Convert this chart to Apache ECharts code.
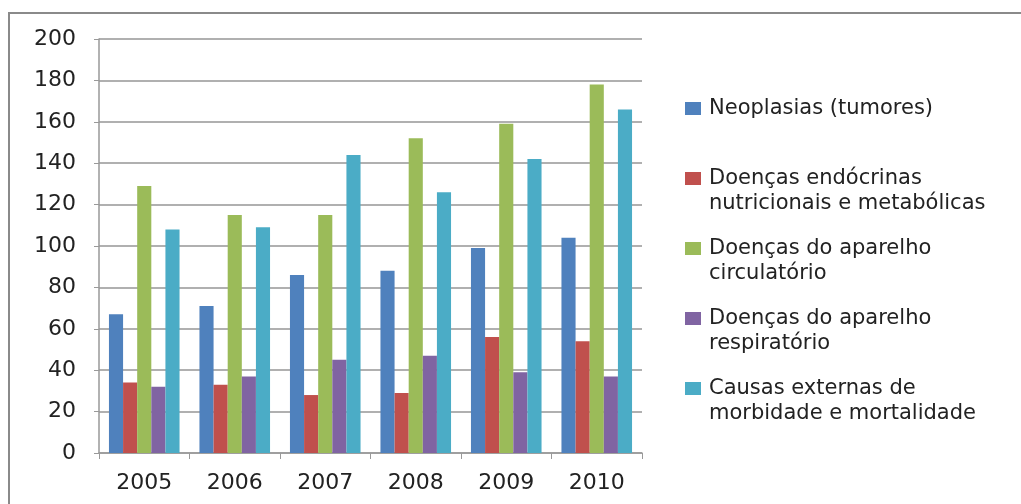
<!DOCTYPE html>
<html>
<head>
<meta charset="utf-8">
<script src="https://cdn.jsdelivr.net/npm/echarts@6/dist/echarts.min.js"></script>
<style>
  html, body { margin: 0; padding: 0; background: #fff; }
  #chart { width: 1021px; height: 504px; }
</style>
</head>
<body>
<div id="chart"></div>
<script>
// dados
const years = ['2005', '2006', '2007', '2008', '2009', '2010'];
const neoplasias = [67, 71, 86, 88, 99, 104];
const endocrinas = [34, 33, 28, 29, 56, 54];
const circulatorio = [129, 115, 115, 152, 159, 178];
const respiratorio = [32, 37, 45, 47, 39, 37];
const causasExternas = [108, 109, 144, 126, 142, 166];

const seriesNames = [
  'Neoplasias (tumores)',
  'Doenças endócrinas nutricionais e metabólicas',
  'Doenças do aparelho circulatório',
  'Doenças do aparelho respiratório',
  'Causas externas de morbidade e mortalidade'
];
// rótulos da legenda (linha em branco no início para alinhar o ícone à 1ª linha)
const legendLabels = [
  'Neoplasias (tumores)',
  ' \nDoenças endócrinas\nnutricionais e metabólicas',
  ' \nDoenças do aparelho\ncirculatório',
  ' \nDoenças do aparelho\nrespiratório',
  ' \nCausas externas de\nmorbidade e mortalidade'
];
const colors = ['#4F81BD', '#C0504D', '#9BBB59', '#8064A2', '#4BACC6'];
const values = [neoplasias, endocrinas, circulatorio, respiratorio, causasExternas];

const chart = echarts.init(document.getElementById('chart'));
const font = '"DejaVu Sans", sans-serif';

// centro vertical do ícone de cada item da legenda
const iconCenters = [108, 178, 248, 318, 388];
const lineH = 25;

const legends = seriesNames.map((name, i) => {
  const lines = legendLabels[i].split('\n').length;
  return {
    left: 685,
    top: Math.round(iconCenters[i] - lines * lineH / 2),
    padding: 0,
    orient: 'vertical',
    itemWidth: 16,
    itemHeight: 13,
    itemGap: 0,
    icon: 'rect',
    data: [name],
    formatter: () => legendLabels[i],
    textStyle: {
      fontFamily: font,
      fontSize: 21,
      color: '#222',
      lineHeight: lineH,
      padding: [0, 0, 0, 3]
    }
  };
});

chart.setOption({
  animation: false,
  color: colors,
  graphic: [{
    type: 'rect',
    shape: { x: 9, y: 13, width: 1200, height: 700 },
    style: { fill: 'none', stroke: '#8a8a8a', lineWidth: 2 },
    silent: true
  }],
  legend: legends,
  grid: { left: 99, right: 379, top: 39, bottom: 51 },
  xAxis: {
    type: 'category',
    data: years,
    axisLine: { lineStyle: { color: '#999', width: 1.5 } },
    axisTick: { show: true, length: 6, lineStyle: { color: '#999' } },
    axisLabel: { fontFamily: font, fontSize: 22, color: '#222', margin: 19 }
  },
  yAxis: {
    type: 'value',
    min: 0,
    max: 200,
    interval: 20,
    axisLine: { show: true, lineStyle: { color: '#999', width: 1.5 } },
    axisTick: { show: true, length: 5, lineStyle: { color: '#999' } },
    axisLabel: { fontFamily: font, fontSize: 22, color: '#222', margin: 23 },
    splitLine: { lineStyle: { color: '#b0b0b0', width: 2 } }
  },
  series: seriesNames.map((name, i) => ({
    name: name,
    type: 'bar',
    data: values[i],
    barGap: '0%',
    barCategoryGap: '22%',
    itemStyle: { color: colors[i] }
  }))
});
</script>
</body>
</html>
